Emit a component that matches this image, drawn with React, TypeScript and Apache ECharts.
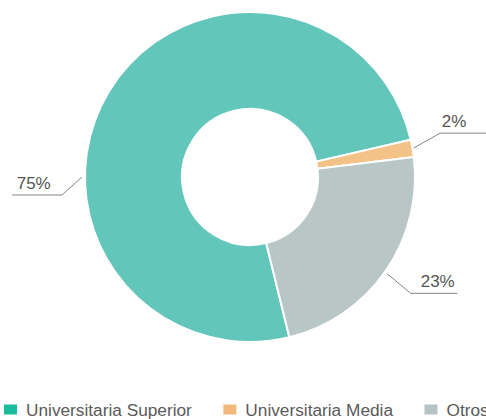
import React, { useEffect, useRef } from "react";
import * as echarts from "echarts";

const categories = ["Universitaria Superior", "Universitaria Media", "Otros"];
const values = [75.2, 1.7, 23.1];
const sliceColors = ["#63c6bb", "#f2c287", "#b8c6c6"];
const legendColors = ["#1abc9c", "#f0b97a", "#b5c3c4"];

const CX = 250;
const CY = 177;
const R_IN = 68;
const R_OUT = 165;

// label line geometry (style only)
const labelGeom = [
  { angle: 180, r: 168, dx: -20, dy: 18, len: -50, textDx: -45.3 },
  { angle: 10, r: 166, dx: 26.5, dy: -15, len: 52, textDx: 1.7 },
  { angle: -35.2, r: 168, dx: 23.4, dy: 19.5, len: 46.6, textDx: 10 },
];

export default function App() {
  const ref = useRef<HTMLDivElement>(null);
  useEffect(() => {
    document.body.style.margin = "0";
    if (!ref.current) return;
    const chart = echarts.init(ref.current, null, { renderer: "svg" });
    chart.setOption({
      animation: false,
      legend: {
        left: 4,
        top: 401,
        padding: 0,
        width: 1200,
        orient: "horizontal",
        icon: "rect",
        itemWidth: 13,
        itemHeight: 10,
        itemGap: 31.5,
        itemStyle: { borderWidth: 0 },
        textStyle: {
          fontFamily: "Liberation Sans, Arial, sans-serif",
          fontSize: 17.25,
          color: "#5a5a5a",
          padding: [0, 0, 0, 4],
        },
        data: categories.map((c, i) => ({
          name: c,
          itemStyle: { color: legendColors[i], borderWidth: 0 },
        })),
      },
      series: [
        {
          type: "pie",
          center: [CX, CY],
          radius: [R_IN, R_OUT],
          startAngle: -76.2,
          clockwise: true,
          silent: true,
          avoidLabelOverlap: false,
          itemStyle: { borderColor: "#fff", borderWidth: 2 },
          label: {
            show: true,
            position: "outside",
            formatter: (p: any) => Math.round(p.percent) + "%",
            fontFamily: "Liberation Sans, Arial, sans-serif",
            fontSize: 17,
            color: "#555",
          },
          labelLine: {
            show: true,
            length: 20,
            length2: 40,
            lineStyle: { color: "#858585", width: 1 },
          },
          labelLayout: (params: any) => {
            const g = labelGeom[params.dataIndex];
            const a = (g.angle * Math.PI) / 180;
            const p0 = [CX + g.r * Math.cos(a), CY - g.r * Math.sin(a)];
            const p1 = [p0[0] + g.dx, p0[1] + g.dy];
            const p2 = [p1[0] + g.len, p1[1]];
            return {
              x: p1[0] + g.textDx,
              y: p1[1] - 12,
              align: "left",
              verticalAlign: "middle",
              labelLinePoints: [p0, p1, p2],
            };
          },
          data: categories.map((c, i) => ({
            name: c,
            value: values[i],
            itemStyle: { color: sliceColors[i] },
          })),
        },
      ],
    });
    return () => chart.dispose();
  }, []);
  return <div ref={ref} style={{ width: 486, height: 419 }} />;
}
